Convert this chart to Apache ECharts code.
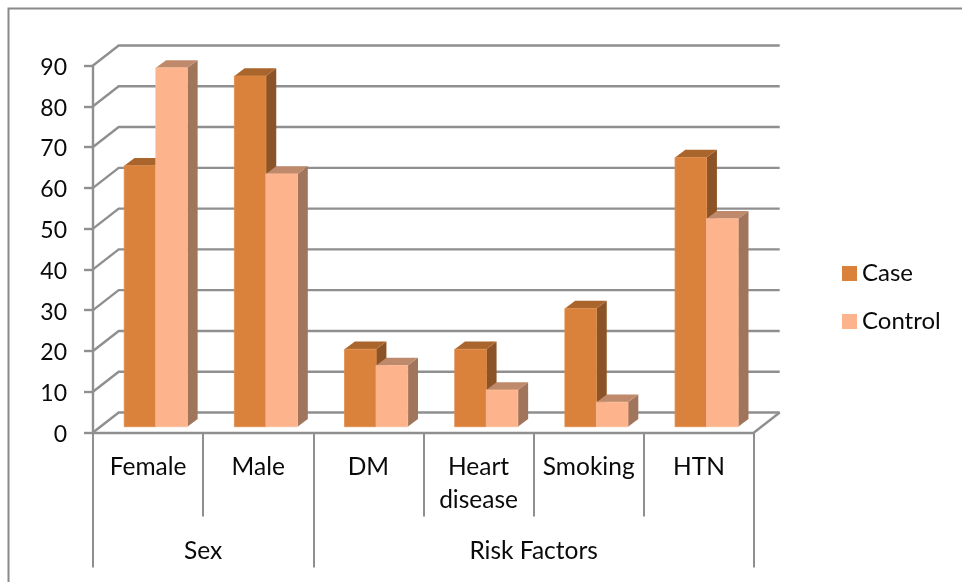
<!DOCTYPE html>
<html>
<head>
<meta charset="utf-8">
<style>html,body{margin:0;padding:0;background:#fff}#chart{width:962px;height:582px}</style>
<script src="https://cdn.jsdelivr.net/npm/echarts@6/dist/echarts.min.js"></script>
</head>
<body>
<div id="chart"></div>
<script>
// Case / control percentages by characteristic
const categories = ['Female', 'Male', 'DM', 'Heart\ndisease', 'Smoking', 'HTN'];
const caseValues = [64, 86, 19, 19, 29, 66];
const controlValues = [88, 62, 15, 9, 6, 51];
const groupNames = ['Sex', 'Risk Factors'];
const groupCentres = [1, 4];
const groupEdges = [0, 2, 6];

const FONT = 'Lato, "Open Sans", sans-serif';
const TEXT = '#0a0a0a';
const LINE = '#8f8f8f';
const LINE_W = 2.4;

// Oblique projection used for the fake 3D walls and boxes
const WALL_DX = 25.7, WALL_DY = -20;
const BOX_DX = 10.3, BOX_DY = -7.7;
const FRONT_DX = 7.7, FRONT_DY = -5.8;

const shades = {
  Case: { front: '#da813b', top: '#a9652b', side: '#8c5426', edge: '#e08d4b' },
  Control: { front: '#fdb48d', top: '#bf8a6c', side: '#a0755c', edge: '#fdbd9a' }
};

function pts(list) { return { points: list }; }

// Box for one bar; barSlot is -1 for the left bar of a pair, 0 for the right one
function boxRenderer(name, barSlot) {
  return function (params, api) {
    const base = api.coord([api.value(0), 0]);
    const top = api.coord([api.value(0), api.value(1)]);
    const band = api.size([1, 0])[0];
    const w = band * 0.2865;
    const x0 = base[0] + FRONT_DX + barSlot * w;
    const x1 = x0 + w;
    const yb = base[1] + FRONT_DY;
    const yt = top[1] + FRONT_DY;
    const c = shades[name];
    return {
      type: 'group',
      children: [
        { type: 'polygon', shape: pts([[x1, yb], [x1 + BOX_DX, yb + BOX_DY], [x1 + BOX_DX, yt + BOX_DY], [x1, yt]]), style: { fill: c.side } },
        { type: 'polygon', shape: pts([[x0, yt], [x1, yt], [x1 + BOX_DX, yt + BOX_DY], [x0 + BOX_DX, yt + BOX_DY]]), style: { fill: c.top } },
        { type: 'rect', shape: { x: x0, y: yt, width: w, height: yb - yt }, style: { fill: c.front, stroke: c.edge, lineWidth: 0.8 } }
      ]
    };
  };
}

// Back wall and floor lines behind the bars
function wallRenderer(params, api) {
  const v = api.value(0);
  const y = api.coord([0, v])[1];
  const left = params.coordSys.x;
  const right = left + params.coordSys.width;
  const children = [{
    type: 'polyline',
    shape: pts([[left, y], [left + WALL_DX, y + WALL_DY], [right + WALL_DX, y + WALL_DY]]),
    style: { fill: null, stroke: LINE, lineWidth: LINE_W }
  }];
  if (v === 0) {
    children.push({
      type: 'line',
      shape: { x1: right, y1: y, x2: right + WALL_DX, y2: y + WALL_DY },
      style: { stroke: LINE, lineWidth: LINE_W }
    });
  }
  return { type: 'group', children };
}

const yTicks = [0, 10, 20, 30, 40, 50, 60, 70, 80, 90];

const chart = echarts.init(document.getElementById('chart'), null, { renderer: 'canvas' });
chart.setOption({
  animation: false,
  backgroundColor: '#ffffff',
  textStyle: { fontFamily: FONT },
  graphic: [
    { type: 'polyline', silent: true, shape: pts([[8.5, 582], [8.5, 8.5], [962, 8.5]]), style: { fill: null, stroke: '#8a8a8a', lineWidth: 2 } }
  ],
  grid: { left: 93, right: 208, top: 65.5, bottom: 149.5, containLabel: false },
  legend: {
    orient: 'vertical',
    left: 842,
    top: 260,
    padding: 0,
    icon: 'rect',
    itemWidth: 15,
    itemHeight: 15,
    itemGap: 21,
    data: ['Case', 'Control'],
    textStyle: { fontFamily: FONT, fontSize: 24, color: TEXT, lineHeight: 27 }
  },
  xAxis: [
    {
      type: 'category',
      position: 'bottom',
      data: categories,
      axisLine: { show: true, lineStyle: { color: LINE, width: LINE_W } },
      axisTick: { show: true, alignWithLabel: false, length: 84, lineStyle: { color: LINE, width: 2 } },
      axisLabel: { interval: 0, margin: 18, fontFamily: FONT, fontSize: 24.5, color: TEXT, lineHeight: 33, verticalAlign: 'top' },
      splitLine: { show: false }
    },
    {
      type: 'value',
      position: 'bottom',
      min: 0,
      max: 6,
      axisLine: { show: false },
      axisTick: { show: true, length: 135, customValues: groupEdges, lineStyle: { color: LINE, width: 2 } },
      axisLabel: {
        margin: 106,
        fontFamily: FONT,
        fontSize: 24.5,
        color: TEXT,
        customValues: groupCentres,
        verticalAlign: 'top',
        formatter: function (value) { return groupNames[groupCentres.indexOf(value)]; }
      },
      splitLine: { show: false }
    }
  ],
  yAxis: {
    type: 'value',
    min: 0,
    max: 90,
    interval: 10,
    axisLine: { show: true, lineStyle: { color: LINE, width: LINE_W } },
    axisTick: { show: true, length: 9, lineStyle: { color: LINE, width: LINE_W } },
    axisLabel: {
      margin: 26,
      fontFamily: FONT,
      fontSize: 23,
      color: TEXT,
      formatter: '{v|{value}}',
      rich: { v: { fontFamily: FONT, fontSize: 23, color: TEXT, padding: [4, 0, 0, 0] } }
    },
    splitLine: { show: false }
  },
  series: [
    {
      type: 'custom',
      name: 'wall',
      silent: true,
      z: 1,
      coordinateSystem: 'cartesian2d',
      encode: { y: 0 },
      clip: false,
      data: yTicks.map(function (t) { return [t]; }),
      renderItem: wallRenderer
    },
    {
      type: 'custom',
      name: 'Case',
      z: 3,
      coordinateSystem: 'cartesian2d',
      clip: false,
      itemStyle: { color: shades.Case.front },
      encode: { x: 0, y: 1 },
      data: caseValues.map(function (v, i) { return [i, v]; }),
      renderItem: boxRenderer('Case', -1)
    },
    {
      type: 'custom',
      name: 'Control',
      z: 4,
      coordinateSystem: 'cartesian2d',
      clip: false,
      itemStyle: { color: shades.Control.front },
      encode: { x: 0, y: 1 },
      data: controlValues.map(function (v, i) { return [i, v]; }),
      renderItem: boxRenderer('Control', 0)
    }
  ]
});
</script>
</body>
</html>
